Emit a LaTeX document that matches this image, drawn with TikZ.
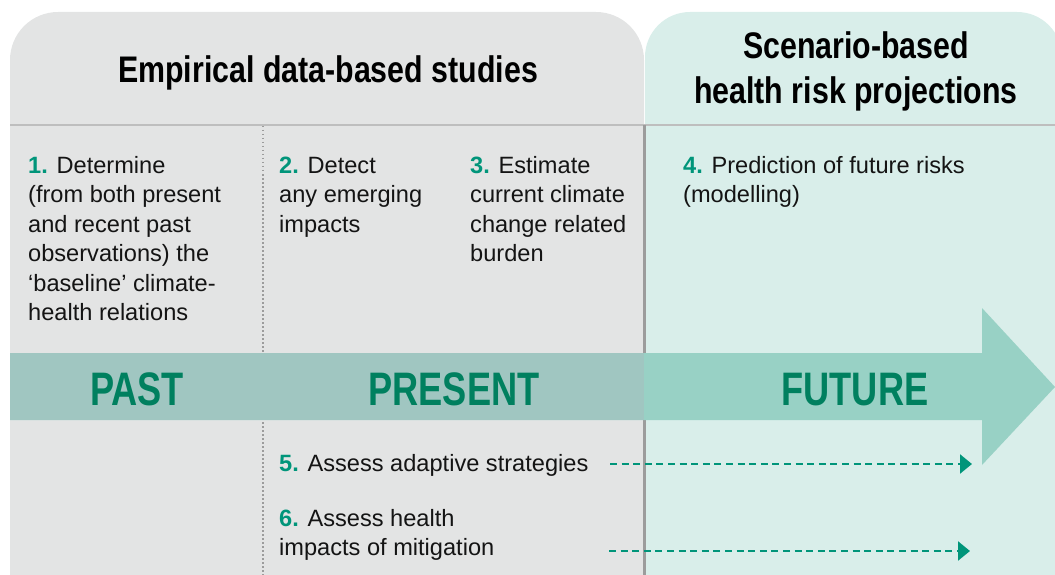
\documentclass[tikz,border=0pt]{standalone}
\usepackage{fontspec}
\setmainfont{Liberation Sans}
\newfontfamily\headfont[FakeStretch=0.82]{Liberation Sans}
\newfontfamily\timefont[FakeStretch=0.77]{Liberation Sans}
\usetikzlibrary{positioning,arrows.meta}

\definecolor{empcol}{HTML}{E3E4E4}
\definecolor{scencol}{HTML}{D9EEEA}
\definecolor{bandcol}{HTML}{A0C6C1}
\definecolor{bandfutcol}{HTML}{98D1C5}
\definecolor{timecol}{HTML}{00805F}
\definecolor{numcol}{HTML}{00957A}
\definecolor{rulecol}{HTML}{BEBEBE}
\definecolor{sepcol}{HTML}{9C9C9C}

\newcommand{\stepnum}[1]{\textcolor{numcol}{\bfseries #1.}}

\tikzset{
  step text/.style = {
    anchor=base west,
    align=left,
    inner sep=0pt,
    text=black!92,
    font=\fontsize{23.6}{29.5}\selectfont,
    },
  header text/.style = {
    align=center,
    inner sep=0pt,
    anchor=base,
    font=\headfont\bfseries\fontsize{37}{45}\selectfont,
    },
  time text/.style = {
    inner sep=0pt,
    anchor=base,
    text=timecol,
    font=\timefont\bfseries\fontsize{47}{47}\selectfont,
    },
  future link/.style = {
    -{Triangle[length=12pt,width=19pt]},
    numcol,
    line width=2.2pt,
    dash pattern=on 7pt off 4.6pt,
    },
}

\begin{document}
\begin{tikzpicture}[x=1pt,y=-1pt]
    \useasboundingbox (0,0) rectangle (1055,575);
    \clip (0,0) rectangle (1055,575);

    % panels
    \fill[empcol, rounded corners=48pt] (10,12) rectangle (644,650);
    \fill[scencol, rounded corners=45pt] (645,12) rectangle (1062,650);
    \draw[rulecol, line width=2pt] (10,125) -- (1055,125);
    \draw[sepcol, line width=2.5pt] (644.5,125) -- (644.5,575);
    \draw[sepcol, line width=1.5pt, dash pattern=on 1.5pt off 2.5pt] (263,126) -- (263,575);

    % time arrow
    \fill[bandfutcol] (10,353) -- (982,353) -- (982,308) -- (1055,387)
        -- (982,465) -- (982,420) -- (10,420) -- cycle;
    \fill[bandcol] (10,353) rectangle (644,420);

    % headers (base = last line)
    \node[header text] (emp) at (328,83) {Empirical data-based studies};
    \node[header text] (scen) at (856,104) {Scenario-based\\health risk projections};

    % steps (base = last line)
    \node[step text] (s1) at (28,320.5) {\stepnum{1} Determine\\(from both present\\and recent past\\observations) the\\`baseline' climate-\\health relations};
    \node[step text] (s2) at (279,232) {\stepnum{2} Detect\\any emerging\\impacts};
    \node[step text] (s3) at (470,261.5) {\stepnum{3} Estimate\\current climate\\change related\\burden};
    \node[step text] (s4) at (683,202.5) {\stepnum{4} Prediction of future risks\\(modelling)};
    \node[step text] (s5) at (279,471) {\stepnum{5} Assess adaptive strategies};
    \node[step text] (s6) at (279,555.5) {\stepnum{6} Assess health\\impacts of mitigation};

    % time labels
    \node[time text] (past) at (137,405) {PAST};
    \node[time text] (present) at (454,405) {PRESENT};
    \node[time text] (future) at (855,405) {FUTURE};

    % links to the future
    \coordinate (l5a) at (610,464);
    \coordinate (l5b) at (972,464);
    \coordinate (l6a) at (609,551);
    \coordinate (l6b) at (970,551);
    \draw[future link] (l5a) -- (l5b);
    \draw[future link] (l6a) -- (l6b);
\end{tikzpicture}
\end{document}
